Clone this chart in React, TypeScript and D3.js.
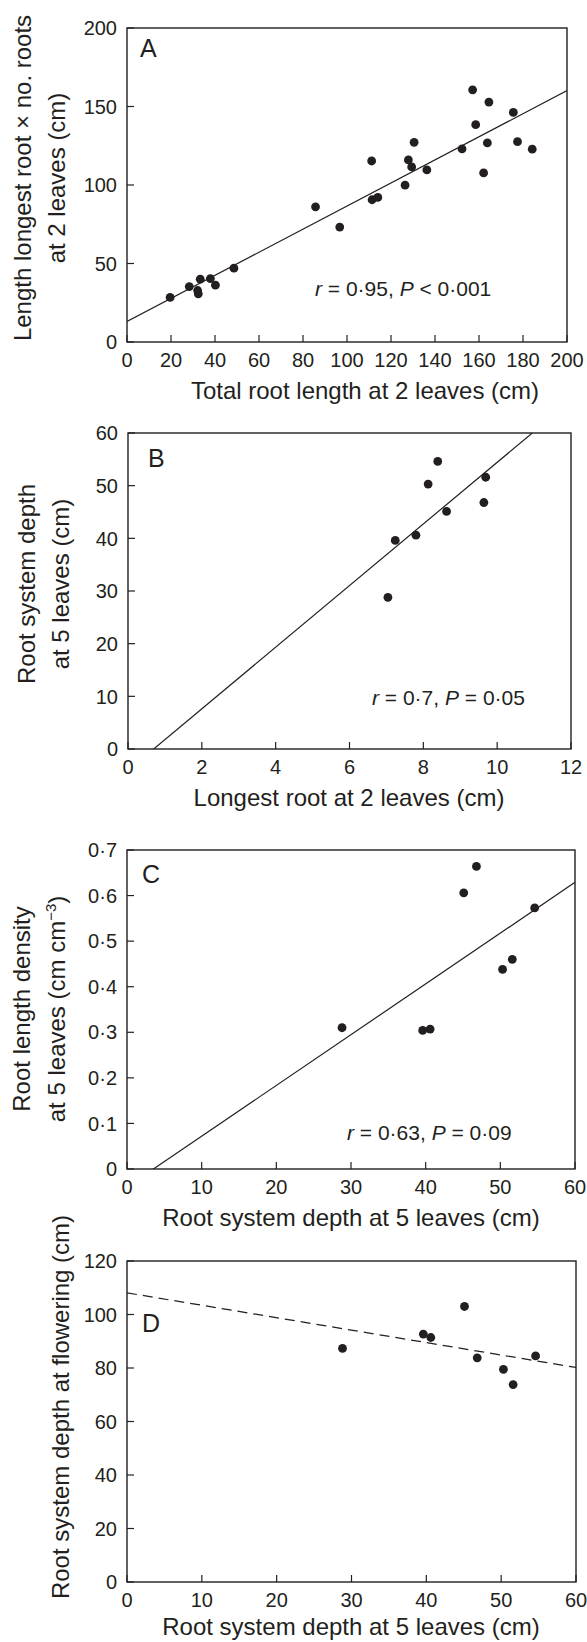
import React, { useEffect } from 'react';
import * as d3 from 'd3';

// ---------- DATA ----------
// Panel A
const aTotalRootLength = [19.6, 28.3, 32.1, 32.4, 33.3, 37.9, 40.2, 48.6, 85.7, 96.7, 111.2, 111.4, 114.0, 126.4, 127.9, 129.4, 130.5, 136.3, 152.3, 157.1, 158.5, 162.1, 163.8, 164.5, 175.6, 177.5, 184.2];
const aLongestTimesNumber = [28.4, 35.3, 32.8, 30.7, 40.0, 40.4, 36.2, 47.0, 86.1, 73.2, 115.3, 90.6, 92.1, 99.9, 116.0, 111.5, 127.2, 109.6, 123.0, 160.6, 138.4, 107.7, 126.8, 152.8, 146.2, 127.6, 122.8];
const aFit = [13.1, 0.735]; // intercept, slope

// Panels B-D share the same plants
const depthAt5Leaves = [28.8, 39.6, 40.6, 45.1, 46.8, 50.3, 51.6, 54.6];
const bLongestRootAt2 = [7.04, 7.24, 7.8, 8.63, 9.64, 8.13, 9.69, 8.39];
const bFit = [-4.07, 5.85];
const cDensityAt5 = [0.31, 0.304, 0.307, 0.606, 0.664, 0.438, 0.46, 0.573];
const cFit = [-0.0394, 0.01114];
const dDepthAtFlowering = [87.3, 92.7, 91.4, 103.0, 83.8, 79.5, 73.8, 84.5];
const dFit = [108.1, -0.465];

// Ticks
const aXTicks = [0, 20, 40, 60, 80, 100, 120, 140, 160, 180, 200];
const aYTicks = [0, 50, 100, 150, 200];
const bXTicks = [0, 2, 4, 6, 8, 10, 12];
const bYTicks = [0, 10, 20, 30, 40, 50, 60];
const cXTicks = [0, 10, 20, 30, 40, 50, 60];
const cYTicks = [0, 0.1, 0.2, 0.3, 0.4, 0.5, 0.6, 0.7];
const cYTickLabels = ['0', '0·1', '0·2', '0·3', '0·4', '0·5', '0·6', '0·7'];
const dXTicks = [0, 10, 20, 30, 40, 50, 60];
const dYTicks = [0, 20, 40, 60, 80, 100, 120];

const FONT = "'Liberation Sans', Arial, Helvetica, sans-serif";
const INK = '#231f20';

type Panel = {
  key: string;
  letter: string;
  frame: { l: number; t: number; r: number; b: number };
  xDomain: [number, number];
  yDomain: [number, number];
  xTicks: number[];
  yTicks: number[];
  yTickLabels?: string[];
  xs: number[];
  ys: number[];
  fit: number[];
  dashed?: boolean;
  xTitle: string;
  xTitleCx: number;
  xTitleDy: number;
  yTitle: React.ReactNode[];
  yTitleX: number[];
  yTitleCy: number;
  letterPos: [number, number];
  annot?: { x: number; y: number; r: string; p: string };
};

const panels: Panel[] = [
  {
    key: 'A', letter: 'A',
    frame: { l: 127, t: 28, r: 567, b: 342 },
    xDomain: [0, 200], yDomain: [0, 200],
    xTicks: aXTicks, yTicks: aYTicks,
    xs: aTotalRootLength, ys: aLongestTimesNumber, fit: aFit,
    xTitle: 'Total root length at 2 leaves (cm)', xTitleCx: 365, xTitleDy: 57,
    yTitle: ['Length longest root × no. roots', 'at 2 leaves (cm)'],
    yTitleX: [31, 65], yTitleCy: 178,
    letterPos: [13, 29],
    annot: { x: 315, y: 296, r: ' = 0·95, ', p: ' < 0·001' },
  },
  {
    key: 'B', letter: 'B',
    frame: { l: 128, t: 433, r: 571, b: 749 },
    xDomain: [0, 12], yDomain: [0, 60],
    xTicks: bXTicks, yTicks: bYTicks,
    xs: bLongestRootAt2, ys: depthAt5Leaves, fit: bFit,
    xTitle: 'Longest root at 2 leaves (cm)', xTitleCx: 349, xTitleDy: 57,
    yTitle: ['Root system depth', 'at 5 leaves (cm)'],
    yTitleX: [35, 69], yTitleCy: 584,
    letterPos: [20, 34],
    annot: { x: 372, y: 705, r: ' = 0·7, ', p: ' = 0·05' },
  },
  {
    key: 'C', letter: 'C',
    frame: { l: 127, t: 850, r: 575, b: 1169 },
    xDomain: [0, 60], yDomain: [0, 0.7],
    xTicks: cXTicks, yTicks: cYTicks, yTickLabels: cYTickLabels,
    xs: depthAt5Leaves, ys: cDensityAt5, fit: cFit,
    xTitle: 'Root system depth at 5 leaves (cm)', xTitleCx: 351, xTitleDy: 57,
    yTitle: [
      'Root length density',
      <>
        <tspan>at 5 leaves (cm cm</tspan>
        <tspan fontSize={15} dy={-9}>−3</tspan>
        <tspan dy={9}>)</tspan>
      </>,
    ],
    yTitleX: [30, 65], yTitleCy: 1009,
    letterPos: [15, 33],
    annot: { x: 347, y: 1140, r: ' = 0·63, ', p: ' = 0·09' },
  },
  {
    key: 'D', letter: 'D',
    frame: { l: 127, t: 1261, r: 576, b: 1582 },
    xDomain: [0, 60], yDomain: [0, 120],
    xTicks: dXTicks, yTicks: dYTicks,
    xs: depthAt5Leaves, ys: dDepthAtFlowering, fit: dFit, dashed: true,
    xTitle: 'Root system depth at 5 leaves (cm)', xTitleCx: 351, xTitleDy: 53,
    yTitle: ['Root system depth at flowering (cm)'],
    yTitleX: [69], yTitleCy: 1407,
    letterPos: [15, 71],
  },
];

function PanelView({ p }: { p: Panel }) {
  const { l, t, r, b } = p.frame;
  const x = d3.scaleLinear().domain(p.xDomain).range([l, r]);
  const y = d3.scaleLinear().domain(p.yDomain).range([b, t]);
  const [x0, x1] = p.xDomain;
  const fitPts: [number, number][] = [x0, x1].map((v) => [v, p.fit[0] + p.fit[1] * v]);
  const line = d3
    .line<[number, number]>()
    .x((d) => x(d[0]))
    .y((d) => y(d[1]));
  const clipId = `clip-${p.key}`;
  const tickLen = 7;
  return (
    <g>
      <defs>
        <clipPath id={clipId}>
          <rect x={l} y={t} width={r - l} height={b - t} />
        </clipPath>
      </defs>
      {/* fit line */}
      <path
        d={line(fitPts) || ''}
        fill="none"
        stroke={INK}
        strokeWidth={1.2}
        strokeDasharray={p.dashed ? '10,6' : undefined}
        clipPath={`url(#${clipId})`}
      />
      {/* points */}
      {p.xs.map((xv, i) => (
        <circle key={i} cx={x(xv)} cy={y(p.ys[i])} r={4.4} fill={INK} />
      ))}
      {/* frame */}
      <rect x={l} y={t} width={r - l} height={b - t} fill="none" stroke={INK} strokeWidth={1.4} />
      {/* x ticks */}
      {p.xTicks.map((v) => (
        <g key={'xt' + v}>
          <line x1={x(v)} x2={x(v)} y1={b} y2={b - tickLen} stroke={INK} strokeWidth={1.2} />
          <text x={x(v)} y={b + 25} textAnchor="middle" fontSize={20} fill={INK} fontFamily={FONT}>
            {String(v)}
          </text>
        </g>
      ))}
      {/* y ticks */}
      {p.yTicks.map((v, i) => (
        <g key={'yt' + v}>
          <line x1={l} x2={l + tickLen} y1={y(v)} y2={y(v)} stroke={INK} strokeWidth={1.2} />
          <text x={l - 10} y={y(v)} dy="0.36em" textAnchor="end" fontSize={20} fill={INK} fontFamily={FONT}>
            {p.yTickLabels ? p.yTickLabels[i] : String(v)}
          </text>
        </g>
      ))}
      {/* x title */}
      <text x={p.xTitleCx} y={b + p.xTitleDy} textAnchor="middle" fontSize={24} fill={INK} fontFamily={FONT}>
        {p.xTitle}
      </text>
      {/* y title */}
      {p.yTitle.map((content, i) => (
        <text
          key={'ytl' + i}
          transform={`translate(${p.yTitleX[i]},${p.yTitleCy}) rotate(-90)`}
          textAnchor="middle"
          fontSize={24}
          fill={INK}
          fontFamily={FONT}
        >
          {content}
        </text>
      ))}
      {/* panel letter */}
      <text x={l + p.letterPos[0]} y={t + p.letterPos[1]} fontSize={25} fill={INK} fontFamily={FONT}>
        {p.letter}
      </text>
      {/* annotation */}
      {p.annot && (
        <text x={p.annot.x} y={p.annot.y} fontSize={21} fill={INK} fontFamily={FONT}>
          <tspan fontStyle="italic">r</tspan>
          <tspan>{p.annot.r}</tspan>
          <tspan fontStyle="italic">P</tspan>
          <tspan>{p.annot.p}</tspan>
        </text>
      )}
    </g>
  );
}

export default function App() {
  useEffect(() => {
    document.body.style.margin = '0';
  }, []);
  return (
    <svg
      width={587}
      height={1642}
      viewBox="0 0 587 1642"
      style={{ display: 'block', position: 'absolute', left: 0, top: 0, background: '#fff' }}
    >
      <rect x={0} y={0} width={587} height={1642} fill="#fff" />
      {panels.map((p) => (
        <PanelView key={p.key} p={p} />
      ))}
    </svg>
  );
}
